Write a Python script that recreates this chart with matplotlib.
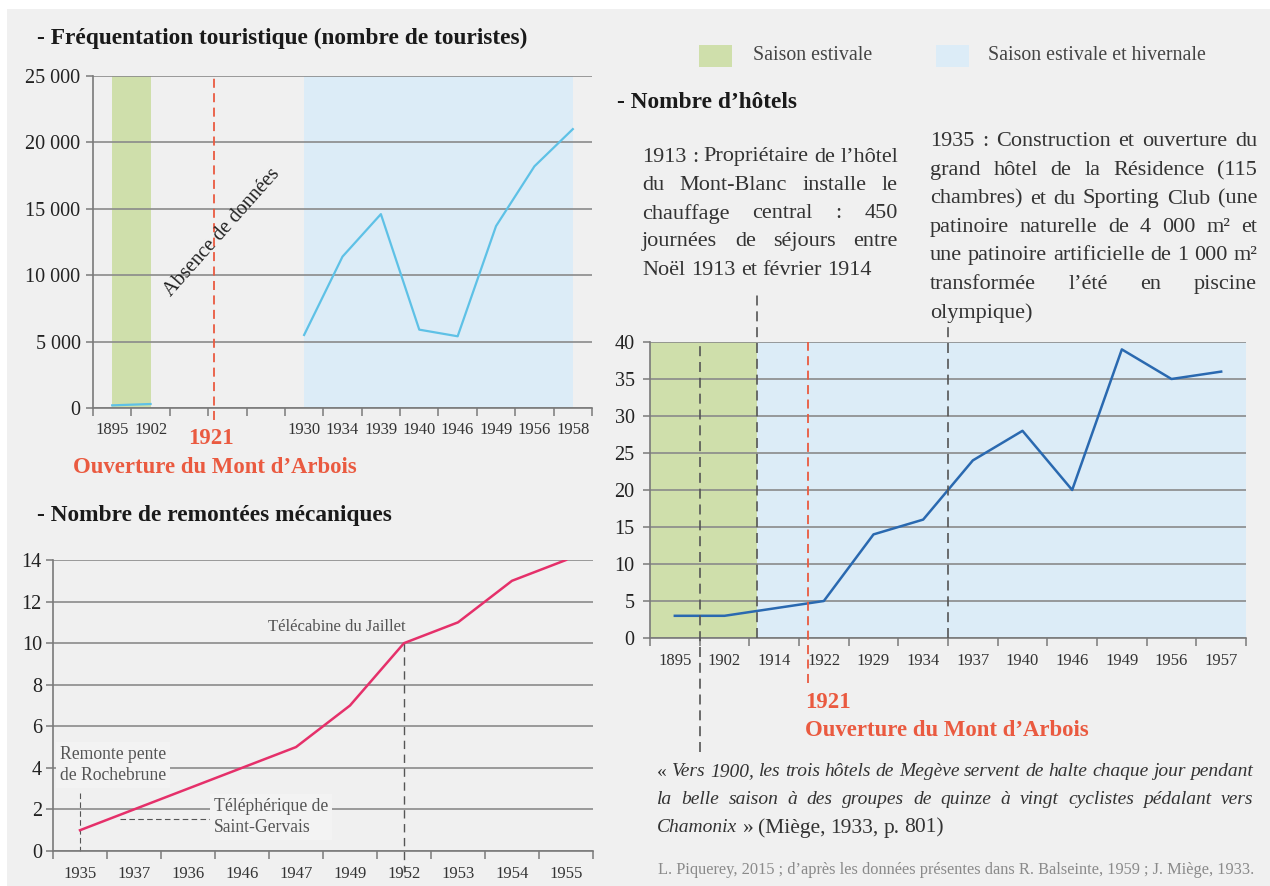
import matplotlib
matplotlib.use('Agg')
import matplotlib.pyplot as plt
from matplotlib.patches import Rectangle
import numpy as np

W, H = 1270, 886

# --- data ---
tour_years = ['1895', '1902', '', '', '', '1930', '1934', '1939', '1940',
              '1946', '1949', '1956', '1958']
tour_counts = [200, 300, np.nan, np.nan, np.nan, 5500, 11400, 14600, 5900,
               5400, 13700, 18200, 21000]

lift_years = ['1935', '1937', '1936', '1946', '1947', '1949', '1952', '1953',
              '1954', '1955']
lift_counts = [1, 2, 3, 4, 5, 7, 10, 11, 13, 14]

hotel_years = ['1895', '1902', '1914', '1922', '1929', '1934', '1937', '1940',
               '1946', '1949', '1956', '1957']
hotel_counts = [3, 3, 4, 5, 14, 16, 24, 28, 20, 39, 35, 36]

# colours
BG = '#f0f0f0'
GREEN = '#cfdfab'
BLUE_BAND = '#dcecf7'
RED = '#ea5a40'
GRID = '#8a8a8a'
AXC = '#7a7a7a'
DASH = '#555555'

plt.rcParams['font.family'] = ['Liberation Serif', 'DejaVu Serif']

fig = plt.figure(figsize=(W / 100, H / 100), dpi=100)
fig.patch.set_facecolor('white')
fig.add_artist(Rectangle((7 / W, 0), 1 - 7 / W, 1 - 9 / H, transform=fig.transFigure,
                         facecolor=BG, edgecolor='none', zorder=-10))


def px_axes(x0, y0, x1, y1):
    return fig.add_axes([x0 / W, 1 - y1 / H, (x1 - x0) / W, (y1 - y0) / H])


def ftext(x, y, s, **kw):
    return fig.text(x / W, 1 - y / H, s, **kw)


def thousands(v):
    return '{:,}'.format(int(v)).replace(',', ' ')


def setup_axes(ax, labels, ymax, ystep, yfmt, ypad, xpad):
    n = len(labels)
    ax.set_xlim(-0.5, n - 0.5)
    ax.set_ylim(0, ymax)
    ax.set_facecolor('none')
    for s in ['top', 'right']:
        ax.spines[s].set_visible(False)
    for s in ['left', 'bottom']:
        ax.spines[s].set_color(AXC)
        ax.spines[s].set_linewidth(1.2)
    ax.set_xticks(np.arange(-0.5, n), [''] * (n + 1))
    ax.set_xticks(np.arange(n), labels, minor=True)
    ax.tick_params(axis='x', which='major', length=6, width=1.1, color=AXC)
    ax.tick_params(axis='x', which='minor', length=0, pad=xpad,
                   labelsize=12, labelcolor='#333333')
    yt = np.arange(0, ymax + 1, ystep)
    ax.set_yticks(yt, [yfmt(v) for v in yt])
    ax.tick_params(axis='y', length=5, width=1.1, color=AXC, pad=ypad,
                   labelsize=14.5, labelcolor='#222222')
    ax.yaxis.grid(True, color=GRID, lw=1.2)
    ax.set_axisbelow(True)


TITLE = dict(fontsize=16.8, fontweight='bold', color='#1a1a1a', va='center')
REDTXT = dict(fontsize=16.4, fontweight='bold', color=RED, va='center')

# ---------------- tourist numbers ----------------
ax1 = px_axes(93, 76, 592, 408)
setup_axes(ax1, tour_years, 25000, 5000, thousands, 4, 10)
ax1.axvspan(0, 1, color=GREEN, zorder=0, lw=0)
ax1.axvspan(5, 12, color=BLUE_BAND, zorder=0, lw=0)
ax1.plot(range(len(tour_years)), tour_counts, color='#5ec1e6', lw=1.6, zorder=3)
ax1.axvline(2.65, ymin=-0.036, ymax=1, color=RED, lw=1.3,
            linestyle=(0, (5, 3)), clip_on=False, zorder=4)
ftext(222, 233, 'Absence de données', fontsize=14.5, color='#222222',
      rotation=48.4, ha='center', va='center', rotation_mode='anchor')
ftext(37, 38, '- Fréquentation touristique (nombre de touristes)', **TITLE)
ftext(211, 438, '1921', ha='center', **REDTXT)
ftext(73, 467, 'Ouverture du Mont d’Arbois', **REDTXT)

# ---------------- ski lifts ----------------
ax2 = px_axes(53, 560, 593, 851)
setup_axes(ax2, lift_years, 14, 2, lambda v: str(int(v)), 3, 11)
ax2.plot(range(len(lift_years)), lift_counts, color='#e5306a', lw=1.8, zorder=3)
ax2.plot([6, 6], [lift_counts[6], -1.0], color=DASH, lw=1.0,
         linestyle=(0, (6, 4)), clip_on=False, zorder=2)
ax2.plot([0, 0], [2.8, 0], color=DASH, lw=0.8, linestyle=(0, (5, 3)),
         clip_on=False, zorder=2)
ax2.plot([0.74, 2.46], [1.55, 1.55], color=DASH, lw=0.8,
         linestyle=(0, (5, 3)), zorder=2)
ftext(37, 515, '- Nombre de remontées mécaniques', **TITLE)
ftext(268, 627, 'Télécabine du Jaillet', fontsize=12, color='#555555',
      va='center')
ftext(60, 765, 'Remonte pente\nde Rochebrune', fontsize=12.7, color='#555555',
      va='center', linespacing=1.25,
      bbox=dict(facecolor='#f3f3f3', edgecolor='none', pad=3))
ftext(214, 817, 'Téléphérique de\nSaint-Gervais', fontsize=12.7,
      color='#555555', va='center', linespacing=1.25,
      bbox=dict(facecolor='#f3f3f3', edgecolor='none', pad=3))

# ---------------- hotels ----------------
ax3 = px_axes(650, 342, 1246, 638)
setup_axes(ax3, hotel_years, 40, 5, lambda v: str(int(v)), 6, 11)
ax3.axvspan(-0.5, 1.65, color=GREEN, zorder=0, lw=0)
ax3.axvspan(1.65, 11.5, color=BLUE_BAND, zorder=0, lw=0)
ax3.plot(range(len(hotel_years)), hotel_counts, color='#2a69b0', lw=1.8, zorder=3)
gdash = dict(color=DASH, lw=1.2, linestyle=(0, (6, 3.5)), clip_on=False, zorder=4)
ax3.axvline(0.5, ymin=-0.385, ymax=1, **gdash)
ax3.axvline(1.65, ymin=0, ymax=1.166, **gdash)
ax3.axvline(5.5, ymin=0, ymax=1.068, **gdash)
ax3.axvline(2.68, ymin=-0.152, ymax=1, color=RED, lw=1.3,
            linestyle=(0, (5, 3)), clip_on=False, zorder=4)
ftext(617, 103, '- Nombre d’hôtels', **TITLE)
ftext(805, 702, '1921', **REDTXT)
ftext(805, 730, 'Ouverture du Mont d’Arbois', **REDTXT)

# legend
fig.add_artist(Rectangle((699 / W, 1 - 67 / H), 33 / W, 22 / H,
                         transform=fig.transFigure, facecolor=GREEN, edgecolor='none'))
fig.add_artist(Rectangle((936 / W, 1 - 67 / H), 33 / W, 22 / H,
                         transform=fig.transFigure, facecolor=BLUE_BAND, edgecolor='none'))
ftext(753, 55, 'Saison estivale', fontsize=14.3, color='#444444', va='center')
ftext(988, 55, 'Saison estivale et hivernale', fontsize=14.3, color='#444444',
      va='center')


# justified paragraphs, word by word
renderer = fig.canvas.get_renderer()


def space_width(size):
    sp = ftext(0, 0, 'a a', fontsize=size)
    ap = ftext(0, 0, 'aa', fontsize=size)
    w = sp.get_window_extent(renderer).width - ap.get_window_extent(renderer).width
    sp.remove()
    ap.remove()
    return w


def paragraph(lines, x0, x1, y0, lh, size, color):
    natural = space_width(size)
    for i, tokens in enumerate(lines):
        last = i == len(lines) - 1
        texts, widths = [], []
        for tok in tokens:
            word, style = tok[0], tok[1]
            fs = tok[2] if len(tok) > 2 else size
            t = ftext(x0, y0 + i * lh, word, fontsize=fs, color=color,
                      style=style, va='center')
            texts.append(t)
            widths.append(t.get_window_extent(renderer).width)
        gap = natural
        if not last and len(tokens) > 1:
            gap = max((x1 - x0 - sum(widths)) / (len(tokens) - 1), 0.6 * natural)
        x = x0
        for t, w in zip(texts, widths):
            t.set_x(x / W)
            x += w + gap


def plain(text, style='normal', fs=None):
    if fs is None:
        return [(w, style) for w in text.split(' ')]
    return [(w, style, fs) for w in text.split(' ')]


note_1913 = ['1913 : Propriétaire de l’hôtel',
             'du Mont-Blanc installe le',
             'chauffage central : 450',
             'journées de séjours entre',
             'Noël 1913 et février 1914']
note_1935 = ['1935 : Construction et ouverture du',
             'grand hôtel de la Résidence (115',
             'chambres) et du Sporting Club (une',
             'patinoire naturelle de 4 000 m² et',
             'une patinoire artificielle de 1 000 m²',
             'transformée l’été en piscine',
             'olympique)']

paragraph([plain(l) for l in note_1913], 642, 898, 157, 28.3, 16, '#333333')
paragraph([plain(l) for l in note_1935], 930, 1257, 142, 28.5, 16, '#333333')

quote = [
    [('«', 'normal')] + plain('Vers 1900, les trois hôtels de Megève servent de '
                              'halte chaque jour pendant', 'italic'),
    plain('la belle saison à des groupes de quinze à vingt cyclistes pédalant vers',
          'italic'),
    [('Chamonix', 'italic')] + plain('» (Miège, 1933, p. 801)', 'normal', 15.5),
]
paragraph(quote, 657, 1253, 772, 28, 14, '#333333')

ftext(658, 870, 'L. Piquerey, 2015 ; d’après les données présentes dans '
      'R. Balseinte, 1959 ; J. Miège, 1933.', fontsize=11.8, color='#8a8a8a',
      va='center')

fig.savefig('out.png', dpi=100, facecolor=fig.get_facecolor())
